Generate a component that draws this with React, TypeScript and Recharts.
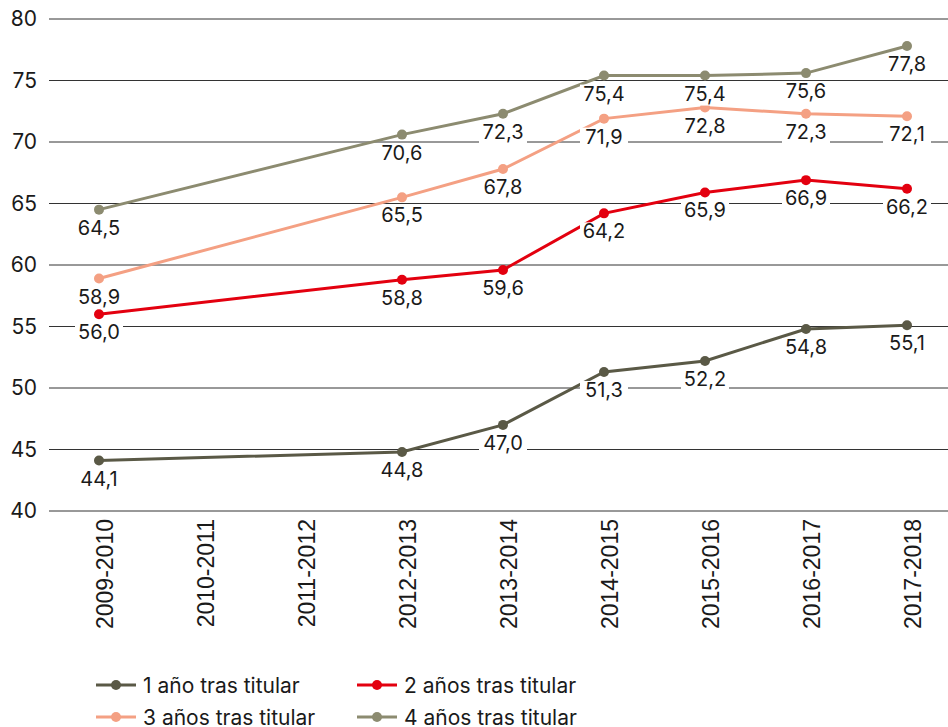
import { LineChart, Line, XAxis, YAxis, CartesianGrid } from 'recharts';

const cursos = [
  '2009-2010',
  '2010-2011',
  '2011-2012',
  '2012-2013',
  '2013-2014',
  '2014-2015',
  '2015-2016',
  '2016-2017',
  '2017-2018',
];

const unAno = [44.1, null, null, 44.8, 47.0, 51.3, 52.2, 54.8, 55.1];
const dosAnos = [56.0, null, null, 58.8, 59.6, 64.2, 65.9, 66.9, 66.2];
const tresAnos = [58.9, null, null, 65.5, 67.8, 71.9, 72.8, 72.3, 72.1];
const cuatroAnos = [64.5, null, null, 70.6, 72.3, 75.4, 75.4, 75.6, 77.8];

const yTicks = [40, 45, 50, 55, 60, 65, 70, 75, 80];

const series = [
  { key: 'uno', name: '1 año tras titular', color: '#5a5946', values: unAno },
  { key: 'dos', name: '2 años tras titular', color: '#e3000f', values: dosAnos },
  { key: 'tres', name: '3 años tras titular', color: '#f4a083', values: tresAnos },
  { key: 'cuatro', name: '4 años tras titular', color: '#8c8b70', values: cuatroAnos },
];

const data = cursos.map((curso, i) => {
  const row: Record<string, string | number | null> = { curso };
  series.forEach((s) => {
    row[s.key] = s.values[i];
  });
  return row;
});

const FONT = 'Inter, "Noto Sans", sans-serif';

function ValueLabel(props: any) {
  const { x, y, value } = props;
  if (value == null) return null;
  const txt = Number(value).toFixed(1).replace('.', ',');
  const w = 48;
  return (
    <g>
      <rect x={x - w / 2} y={y + 9} width={w} height={21} fill="#fff" />
      <text
        x={x}
        y={y + 25}
        textAnchor="middle"
        fontSize={20}
        fontFamily={FONT}
        fill="#1a1a1a"
      >
        {txt}
      </text>
    </g>
  );
}

function CursoTick(props: any) {
  const { x, y, payload } = props;
  return (
    <text
      x={x}
      y={y}
      transform={`rotate(-90, ${x}, ${y})`}
      textAnchor="end"
      dy={14}
      fontSize={23}
      fontFamily='"Liberation Sans", Arial, sans-serif'
      fill="#1a1a1a"
    >
      {payload.value}
    </text>
  );
}

function Leyenda() {
  const cols = [96, 357];
  const rows = [685, 717];
  return (
    <svg
      width={948}
      height={727}
      style={{ position: 'absolute', left: 0, top: 0, pointerEvents: 'none' }}
    >
      {series.map((s, i) => {
        const lx = cols[i % 2];
        const ly = rows[Math.floor(i / 2)];
        return (
          <g key={s.key}>
            <line x1={lx} y1={ly} x2={lx + 40} y2={ly} stroke={s.color} strokeWidth={3} />
            <circle cx={lx + 20} cy={ly} r={5} fill={s.color} />
            <text
              x={lx + 47}
              y={ly}
              dy="0.36em"
              fontSize={21}
              fontFamily={FONT}
              fill="#1a1a1a"
            >
              {s.name}
            </text>
          </g>
        );
      })}
    </svg>
  );
}

export default function App() {
  return (
    <div
      style={{
        position: 'absolute',
        left: 0,
        top: 0,
        width: 948,
        height: 727,
        overflow: 'hidden',
        background: '#fff',
      }}
    >
      <LineChart
        width={948}
        height={727}
        data={data}
        margin={{ top: 19, right: -9, bottom: 96, left: 0 }}
      >
        <CartesianGrid vertical={false} stroke="#333" strokeWidth={1} />
        <XAxis
          dataKey="curso"
          axisLine={false}
          tickLine={false}
          interval={0}
          height={120}
          padding={{ left: 50, right: 50 }}
          tick={<CursoTick />}
        />
        <YAxis
          domain={[40, 80]}
          ticks={yTicks}
          width={49}
          axisLine={false}
          tickLine={false}
          tickSize={0}
          tickMargin={12}
          tick={{ fontSize: 21, fontFamily: FONT, fill: '#1a1a1a' }}
        />
        {series.map((s) => (
          <Line
            key={s.key}
            dataKey={s.key}
            name={s.name}
            stroke={s.color}
            strokeWidth={3}
            connectNulls
            dot={{ r: 5, fill: s.color, stroke: s.color, strokeWidth: 0 }}
            label={<ValueLabel />}
            isAnimationActive={false}
          />
        ))}
      </LineChart>
      <Leyenda />
    </div>
  );
}
